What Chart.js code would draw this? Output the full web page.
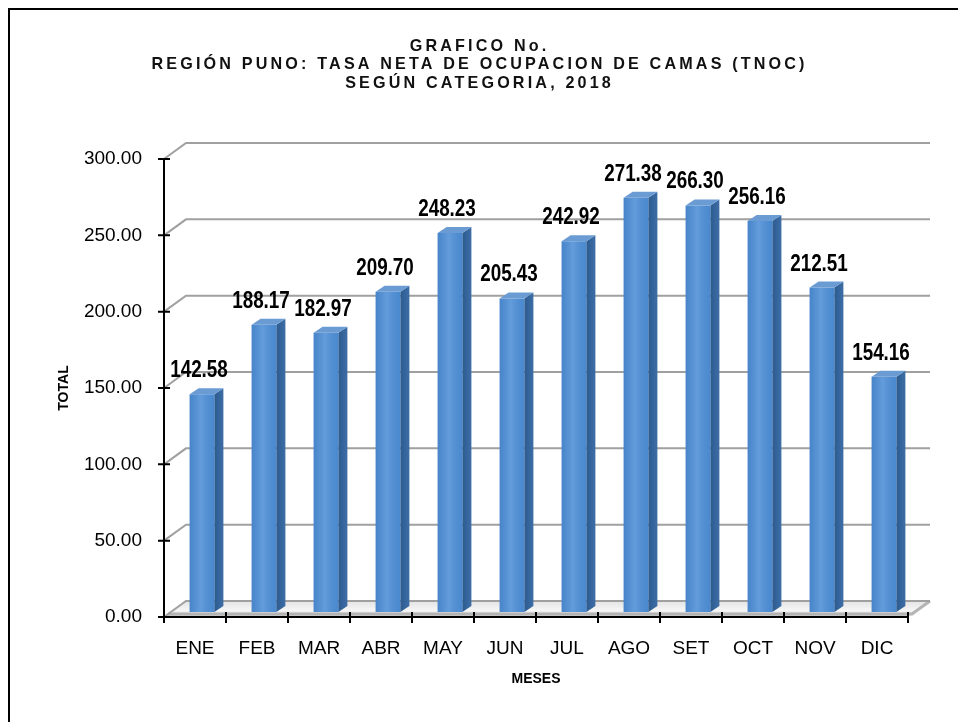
<!DOCTYPE html>
<html>
<head>
<meta charset="utf-8">
<title>TNOC Región Puno 2018</title>
<script src="https://cdn.jsdelivr.net/npm/chart.js@4.4.1/dist/chart.umd.min.js"></script>
<style>
  html, body { margin: 0; padding: 0; background: #fff; overflow: hidden; }
  #wrap { width: 958px; height: 722px; }
</style>
</head>
<body>
<div id="wrap"><canvas id="chart" width="958" height="722"></canvas></div>
<script>
// data
const months = ["ENE", "FEB", "MAR", "ABR", "MAY", "JUN", "JUL", "AGO", "SET", "OCT", "NOV", "DIC"];
const tnoc = [142.58, 188.17, 182.97, 209.70, 248.23, 205.43, 242.92, 271.38, 266.30, 256.16, 212.51, 154.16];
const yTicks = [0, 50, 100, 150, 200, 250, 300];
const titleLines = [
  "GRAFICO No.",
  "REGIÓN PUNO: TASA NETA DE OCUPACION DE CAMAS (TNOC)",
  "SEGÚN CATEGORIA, 2018"
];
const xTitle = "MESES";
const yTitle = "TOTAL";

const FONT = "'Liberation Sans', Arial, sans-serif";

// fake 3D look (Excel style): back wall offset, bar depth
const wall = { dx: 22, dy: 16 };
const barShift = { dx: 7, dy: -5 };
const barDepth = { dx: 9, dy: 6 };

// no narrow font installed, so squeeze text horizontally
function narrowText(ctx, text, x, y, sx) {
  ctx.save();
  ctx.translate(x, y);
  ctx.scale(sx, 1);
  ctx.fillText(text, 0, 0);
  ctx.restore();
}

const scene3d = {
  id: "scene3d",
  beforeDraw(chart) {
    const ctx = chart.ctx;
    ctx.save();
    ctx.fillStyle = "#fff";
    ctx.fillRect(0, 0, chart.width, chart.height);
    // outer frame (runs off the right / bottom edge like the original)
    ctx.strokeStyle = "#000";
    ctx.lineWidth = 2;
    ctx.strokeRect(9, 9, chart.width + 20, chart.height + 20);

    // title, slightly condensed + letter spaced
    const sx = 0.95;
    ctx.fillStyle = "#111";
    ctx.font = "bold 17px " + FONT;
    ctx.textAlign = "center";
    ctx.textBaseline = "middle";
    const w = ctx.measureText(titleLines[1]).width;
    const sp = (656 / sx - w) / titleLines[1].length;
    ctx.letterSpacing = sp.toFixed(2) + "px";
    titleLines.forEach((t, i) => narrowText(ctx, t, 478 + sp * sx / 2, 46 + i * 18.5, sx));
    ctx.restore();
  },
  beforeDatasetsDraw(chart) {
    const { ctx, chartArea: a, scales: { y } } = chart;
    const y0 = y.getPixelForValue(0);
    ctx.save();
    // floor
    const g = ctx.createLinearGradient(0, y0 - wall.dy, 0, y0);
    g.addColorStop(0, "#e4e4e4");
    g.addColorStop(0.6, "#f6f6f6");
    g.addColorStop(1, "#c8c8c8");
    ctx.fillStyle = g;
    ctx.beginPath();
    ctx.moveTo(a.left, y0);
    ctx.lineTo(a.right, y0);
    ctx.lineTo(a.right + wall.dx, y0 - wall.dy);
    ctx.lineTo(a.left + wall.dx, y0 - wall.dy);
    ctx.closePath();
    ctx.fill();
    ctx.strokeStyle = "#b4b4b4";
    ctx.lineWidth = 3;
    ctx.beginPath();
    ctx.moveTo(a.left + 4, y0 - 3);
    ctx.lineTo(a.right + 4, y0 - 3);
    ctx.lineTo(a.right + wall.dx, y0 - wall.dy);
    ctx.stroke();

    // gridlines on side + back wall
    ctx.strokeStyle = "#a0a0a0";
    ctx.lineWidth = 2;
    yTicks.forEach(v => {
      const py = y.getPixelForValue(v);
      ctx.beginPath();
      ctx.moveTo(a.left, py);
      ctx.lineTo(a.left + wall.dx, py - wall.dy);
      ctx.lineTo(a.right + wall.dx, py - wall.dy);
      ctx.stroke();
    });
    ctx.restore();

    // push the bars back into the box
    ctx.save();
    ctx.translate(barShift.dx, barShift.dy);
  },
  afterDatasetsDraw(chart) {
    const { ctx, chartArea: a, scales: { y } } = chart;
    const meta = chart.getDatasetMeta(0);
    meta.data.forEach(bar => {
      const { x: bx, y: by, base, width } = bar.getProps(["x", "y", "base", "width"], true);
      const l = bx - width / 2, r = bx + width / 2;
      // shine on the front face
      const shine = ctx.createLinearGradient(l, 0, r, 0);
      shine.addColorStop(0, "rgba(0,40,90,0.10)");
      shine.addColorStop(0.45, "rgba(255,255,255,0.12)");
      shine.addColorStop(1, "rgba(0,40,90,0.05)");
      ctx.fillStyle = shine;
      ctx.fillRect(l, by, width, base - by);
      // side face
      const sg = ctx.createLinearGradient(r, 0, r + barDepth.dx, 0);
      sg.addColorStop(0, "#2c5b8f");
      sg.addColorStop(1, "#3d6ea6");
      ctx.fillStyle = sg;
      ctx.beginPath();
      ctx.moveTo(r, by);
      ctx.lineTo(r + barDepth.dx, by - barDepth.dy);
      ctx.lineTo(r + barDepth.dx, base - barDepth.dy);
      ctx.lineTo(r, base);
      ctx.closePath();
      ctx.fill();
      // top face
      ctx.fillStyle = "#6a9bd3";
      ctx.beginPath();
      ctx.moveTo(l, by);
      ctx.lineTo(l + barDepth.dx, by - barDepth.dy);
      ctx.lineTo(r + barDepth.dx, by - barDepth.dy);
      ctx.lineTo(r, by);
      ctx.closePath();
      ctx.fill();
    });
    ctx.restore();

    ctx.save();
    // front axes with crossing ticks
    ctx.strokeStyle = "#000";
    ctx.lineWidth = 2;
    ctx.beginPath();
    ctx.moveTo(a.left, a.top);
    ctx.lineTo(a.left, a.bottom);
    ctx.lineTo(a.right, a.bottom);
    yTicks.forEach(v => {
      const py = y.getPixelForValue(v);
      ctx.moveTo(a.left - 6, py);
      ctx.lineTo(a.left + 6, py);
    });
    const step = (a.right - a.left) / months.length;
    for (let i = 0; i <= months.length; i++) {
      const px = a.left + i * step;
      ctx.moveTo(px, a.bottom - 5);
      ctx.lineTo(px, a.bottom + 6);
    }
    ctx.stroke();

    // value labels
    ctx.fillStyle = "#000";
    ctx.font = "bold 23px " + FONT;
    ctx.textAlign = "center";
    ctx.textBaseline = "alphabetic";
    meta.data.forEach((bar, i) => {
      narrowText(ctx, tnoc[i].toFixed(2), bar.x + 4, bar.y - 22, 0.82);
    });
    ctx.restore();
  }
};

new Chart(document.getElementById("chart"), {
  type: "bar",
  data: {
    labels: months,
    datasets: [{
      label: "TNOC",
      data: tnoc,
      backgroundColor: "#4f8fd6",
      borderWidth: 0,
      barPercentage: 0.4,
      categoryPercentage: 1,
      clip: false
    }]
  },
  options: {
    responsive: false,
    animation: false,
    layout: { padding: { top: 159, right: 50, bottom: 25, left: 0 } },
    plugins: {
      legend: { display: false },
      tooltip: { enabled: false }
    },
    scales: {
      x: {
        grid: { display: false, drawTicks: false },
        border: { display: false },
        ticks: { color: "#000", font: { family: FONT, size: 19 }, padding: 20 },
        title: {
          display: true, text: xTitle, color: "#000",
          font: { family: FONT, size: 14, weight: "bold" },
          padding: { top: 0, bottom: 9 }
        },
        afterFit: s => { s.height = 80; }
      },
      y: {
        min: 0,
        max: 300,
        grid: { display: false, drawTicks: false },
        border: { display: false },
        ticks: {
          stepSize: 50,
          color: "#000",
          font: { family: FONT, size: 19 },
          padding: 22,
          callback: v => v.toFixed(2)
        },
        title: {
          display: true, text: yTitle, color: "#000",
          font: { family: FONT, size: 14, weight: "bold" },
          padding: { top: 56, bottom: 0 }
        },
        afterFit: s => { s.width = 164; }
      }
    }
  },
  plugins: [scene3d]
});
</script>
</body>
</html>
